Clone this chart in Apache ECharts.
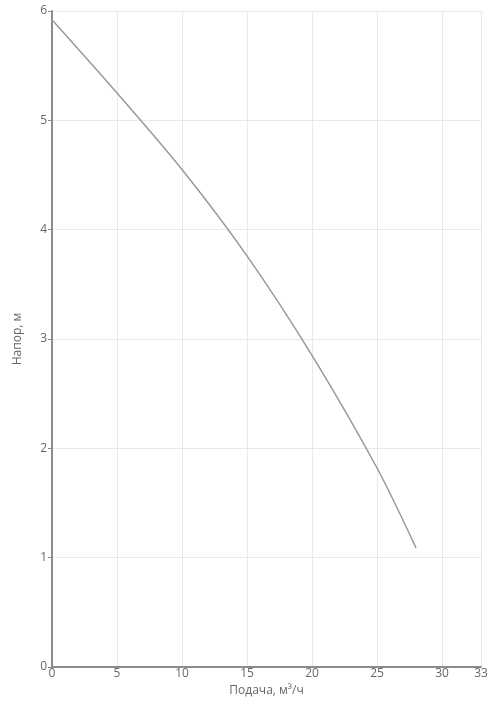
<!DOCTYPE html>
<html>
<head>
<meta charset="utf-8">
<script src="https://cdn.jsdelivr.net/npm/echarts@6/dist/echarts.min.js"></script>
<style>
  html, body { margin: 0; padding: 0; background: #fff; }
  #chart { width: 491px; height: 712px; }
</style>
</head>
<body>
<div id="chart"></div>
<script>
// flow, m3/h
const flow = [0, 5, 10, 15, 20, 25, 28]
// head, m
const head = [5.92, 5.25, 4.55, 3.76, 2.85, 1.82, 1.09]

const chart = echarts.init(document.getElementById('chart'))
const axisColor = '#8c8c8c'
const labelColor = '#666'
const font = '"Open Sans", sans-serif'

const option = {
  backgroundColor: '#fff',
  animation: false,
  grid: {
    left: 52,
    right: 10,
    top: 11,
    bottom: 45
  },
  xAxis: {
    type: 'value',
    min: 0,
    max: 33,
    interval: 5,
    name: 'Подача, м³/ч',
    nameLocation: 'middle',
    nameGap: 17,
    nameTextStyle: { color: labelColor, fontSize: 12, fontFamily: font },
    axisLine: { lineStyle: { color: axisColor, width: 2 } },
    axisTick: { show: false },
    axisLabel: { color: labelColor, fontSize: 12, fontFamily: font, margin: 1 },
    splitLine: { lineStyle: { color: '#e6e8f2', width: 1 } }
  },
  yAxis: {
    type: 'value',
    min: 0,
    max: 6,
    interval: 1,
    name: 'Напор, м',
    nameLocation: 'middle',
    nameGap: 28,
    nameTextStyle: { color: labelColor, fontSize: 12, fontFamily: font },
    axisLine: { show: true, lineStyle: { color: axisColor, width: 2 } },
    axisTick: { show: true, length: 4, lineStyle: { color: axisColor } },
    axisLabel: { color: labelColor, fontSize: 12, fontFamily: font, margin: 5, verticalAlign: 'middle', padding: [0, 0, 6, 0] },
    splitLine: { lineStyle: { color: '#e6e8f2', width: 1 } }
  },
  series: [
    {
      type: 'line',
      smooth: 0.3,
      symbol: 'none',
      lineStyle: { color: '#999', width: 1.5 },
      data: flow.map((q, i) => [q, head[i]])
    }
  ]
}

chart.setOption(option)
</script>
</body>
</html>
